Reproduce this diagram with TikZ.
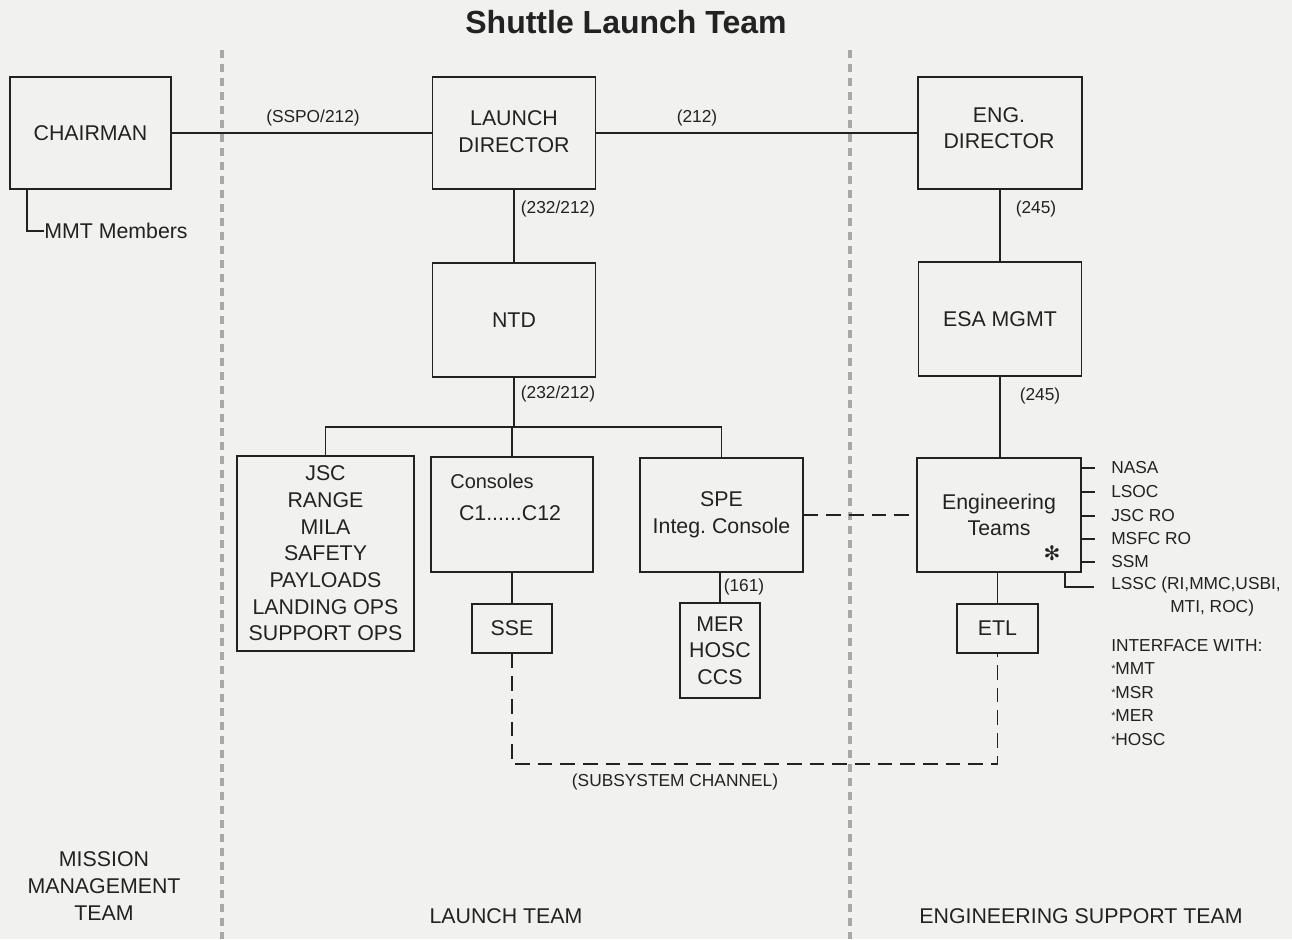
\documentclass[tikz,border=0pt]{standalone}
\usepackage{fontspec}
\setmainfont{Liberation Sans}
\newfontfamily\djv{DejaVu Sans}
\definecolor{ink}{HTML}{222222}
\definecolor{bgc}{HTML}{F1F1EF}
\definecolor{sepc}{HTML}{A8A8A8}
\begin{document}
\begin{tikzpicture}[x=0.75pt,y=-0.75pt,
  box/.style={draw=ink, line width=1.1pt, inner sep=0pt, align=center, text=ink,
              font=\fontsize{16}{20}\selectfont},
  txt/.style={inner sep=0pt, text=ink, align=center, font=\fontsize{16}{20}\selectfont},
  lbl/.style={inner sep=0pt, text=ink, font=\fontsize{13}{16}\selectfont},
  conn/.style={draw=ink, line width=1pt},
  dsh/.style={conn, dash pattern=on 11pt off 6pt},
  sep/.style={draw=sepc, line width=3.5pt, dash pattern=on 6pt off 4.5pt}]
\fill[bgc] (0,0) rectangle (1292,939);
\useasboundingbox (0,0) rectangle (1292,939);
% separators
\draw[sep] (222,50) -- (222,939);
\draw[sep] (850,50) -- (850,939);
% title
\node[txt, font=\fontsize{24}{28}\selectfont\bfseries] (title) at (626,22) {Shuttle Launch Team};
% boxes
\node[box, minimum width=120.75pt, minimum height=84pt] (chair) at (90.5,133) {CHAIRMAN};
\node[box, minimum width=122.25pt, minimum height=84pt] (ld) at (514,133) {};
\node[txt] (ldT) at (514,131.5) {LAUNCH\\DIRECTOR};
\node[box, minimum width=123pt, minimum height=84pt] (eng) at (1000,133) {};
\node[txt] (engT) at (999,128) {ENG.\\DIRECTOR};
\node[box, minimum width=122.25pt, minimum height=85.5pt] (ntd) at (514,320) {NTD};
\node[box, minimum width=122.25pt, minimum height=85.5pt] (esa) at (1000,319) {ESA MGMT};
\node[box, minimum width=132.75pt, minimum height=146.25pt] (jsc) at (325.5,553.5)
  {JSC\\RANGE\\MILA\\SAFETY\\PAYLOADS\\LANDING OPS\\SUPPORT OPS};
\node[box, minimum width=121.5pt, minimum height=86.25pt] (cons) at (512,514.5) {};
\node[txt, font=\fontsize{15}{18}\selectfont] (consA) at (492,481) {Consoles};
\node[txt] (consB) at (510,513) {C1......C12};
\node[box, minimum width=122.25pt, minimum height=85.5pt] (spe) at (721.5,515) {SPE\\Integ.\ Console};
\node[box, minimum width=123pt, minimum height=85.5pt] (engt) at (999,515) {Engineering\\Teams};
\node[txt, font=\fontsize{15}{15}\selectfont\djv] (star) at (1052,553) {✻};
\node[box, minimum width=60pt, minimum height=36.75pt] (sse) at (512,628.5) {SSE};
\node[box, minimum width=60pt, minimum height=71.25pt] (mer) at (720,650.5) {MER\\HOSC\\CCS};
\node[box, minimum width=60.75pt, minimum height=36.75pt] (etl) at (997.5,628.5) {ETL};
% connectors
\draw[conn] (chair) -- (ld);
\draw[conn] (ld) -- (eng);
\draw[conn] (ld) -- (ntd);
\draw[conn] (eng) -- (esa);
\draw[conn] (esa.south) -- (esa.south |- engt.north);
\coordinate (busM) at (514,427);
\coordinate (busL) at (325.5,427);
\coordinate (busR) at (721.5,427);
\draw[conn] (ntd.south) -- (busM);
\draw[conn] (jsc.north) -- (busL) -- (busR) -- (spe.north);
\draw[conn] (cons.north) -- (cons.north |- busM);
\draw[conn] (cons) -- (sse);
\draw[conn] (spe.south -| mer) -- (mer);
\draw[conn] (engt.south -| etl) -- (etl);
\draw[dsh] (spe) -- (engt);
\coordinate (chL) at (512,764);
\coordinate (chR) at (997.5,764);
\draw[dsh] (sse) -- (chL) -- (chR) -- (etl);
% connector labels
\node[lbl] (l1) at (313,118) {(SSPO/212)};
\node[lbl] (l2) at (697,118) {(212)};
\node[lbl] (l3) at (558,209) {(232/212)};
\node[lbl] (l4) at (1036,209) {(245)};
\node[lbl] (l5) at (558,394) {(232/212)};
\node[lbl] (l6) at (1040,396) {(245)};
\node[lbl] (l7) at (744,587) {(161)};
\node[lbl] (l8) at (675,782) {(SUBSYSTEM CHANNEL)};
% MMT members
\coordinate (mmtc) at (27,231);
\node[txt, anchor=west] (mmt) at (44,231) {MMT Members};
\draw[conn] (chair.south -| mmtc) -- (mmtc) -- (mmt.west);
% right list
\node[lbl, anchor=west] (r1) at (1111,468) {NASA};
\node[lbl, anchor=west] (r2) at (1111,492) {LSOC};
\node[lbl, anchor=west] (r3) at (1111,516) {JSC RO};
\node[lbl, anchor=west] (r4) at (1111,539) {MSFC RO};
\node[lbl, anchor=west] (r5) at (1111,562) {SSM};
\node[lbl, anchor=west] (r6) at (1111,585) {LSSC (RI,MMC,USBI,};
\node[lbl, anchor=west] (r7) at (1170,608) {MTI, ROC)};
\foreach \r in {r1,r2,r3,r4,r5}
  \draw[conn] (engt.east |- \r) -- ++(13,0);
\coordinate (lsA) at (1065,572);
\coordinate (lsB) at (1065,587);
\draw[conn] (lsA) -- (lsB) -- ++(29,0);
\node[lbl, anchor=west] (i0) at (1111,646) {INTERFACE WITH:};
\node[lbl, anchor=west] (i1) at (1111,669) {\raisebox{0.3ex}{\fontsize{8}{8}\selectfont *}MMT};
\node[lbl, anchor=west] (i2) at (1111,693) {\raisebox{0.3ex}{\fontsize{8}{8}\selectfont *}MSR};
\node[lbl, anchor=west] (i3) at (1111,716) {\raisebox{0.3ex}{\fontsize{8}{8}\selectfont *}MER};
\node[lbl, anchor=west] (i4) at (1111,740) {\raisebox{0.3ex}{\fontsize{8}{8}\selectfont *}HOSC};
% bottom labels
\node[txt] (mmteam) at (104,886) {MISSION\\MANAGEMENT\\TEAM};
\node[txt] (lteam) at (506,916) {LAUNCH TEAM};
\node[txt] (eteam) at (1081,916) {ENGINEERING SUPPORT TEAM};
\end{tikzpicture}
\end{document}
